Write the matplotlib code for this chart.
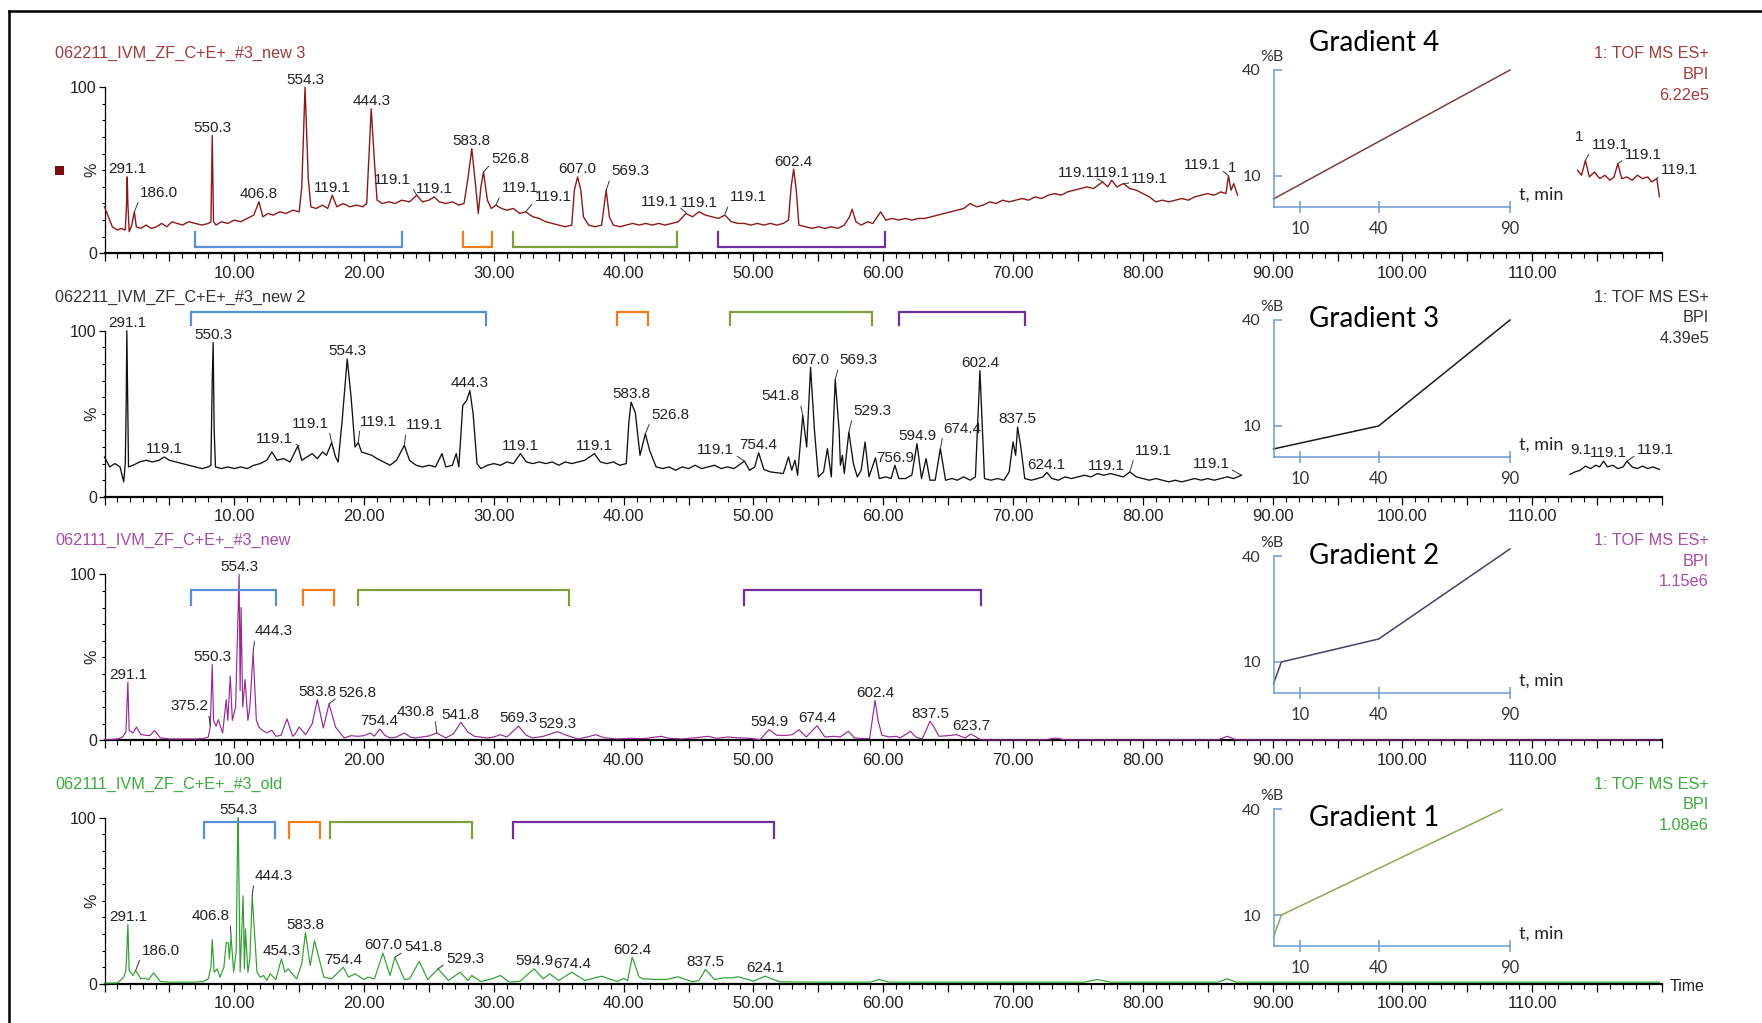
import numpy as np
import matplotlib.pyplot as plt
from matplotlib.lines import Line2D
from matplotlib.patches import Rectangle
from matplotlib.ticker import MultipleLocator, FixedLocator, FuncFormatter

plt.rcParams['font.family'] = 'Liberation Sans'

# ---------------- data ----------------
run_names = ['062211_IVM_ZF_C+E+_#3_new 3', '062211_IVM_ZF_C+E+_#3_new 2',
             '062111_IVM_ZF_C+E+_#3_new', '062111_IVM_ZF_C+E+_#3_old']
bpi_scale = ['6.22e5', '4.39e5', '1.15e6', '1.08e6']
gradient_names = ['Gradient 4', 'Gradient 3', 'Gradient 2', 'Gradient 1']

# run 1 (new 3): visible part before and after the inset
p1_trace = [(0.0, 28), (0.3, 22), (0.6, 16), (1.0, 14), (1.3, 15), (1.6, 14), (1.7, 30), (1.75, 46), (1.8, 30),
            (1.9, 13), (2.1, 17), (2.3, 25), (2.45, 16), (2.8, 15), (3.2, 17), (3.6, 15), (4.0, 16), (4.4, 18),
            (4.8, 16), (5.2, 19), (5.6, 18), (6.0, 17), (6.5, 19), (7.0, 18), (7.5, 17), (8.0, 18), (8.2, 19),
            (8.3, 71), (8.4, 19), (8.6, 17), (9.0, 19), (9.5, 18), (10.0, 20), (10.5, 19), (11.0, 21), (11.5, 23),
            (11.9, 31), (12.2, 22), (12.6, 24), (13.0, 23), (13.5, 25), (14.0, 24), (14.5, 26), (15.0, 25),
            (15.2, 40), (15.45, 100), (15.7, 45), (15.9, 28), (16.3, 27), (16.8, 29), (17.2, 27), (17.55, 35),
            (17.9, 28), (18.4, 30), (18.9, 28), (19.4, 29), (19.9, 28), (20.2, 30), (20.55, 87), (20.8, 55),
            (21.0, 32), (21.4, 30), (21.9, 31), (22.4, 30), (22.9, 32), (23.5, 31), (24.05, 35), (24.5, 31),
            (25.0, 32), (25.4, 34), (25.8, 31), (26.3, 30), (26.8, 31), (27.3, 29), (27.7, 30), (28.0, 45),
            (28.3, 63), (28.6, 40), (28.8, 24), (29.0, 40), (29.2, 49), (29.5, 32), (29.8, 27), (30.15, 29),
            (30.6, 27), (31.0, 26), (31.5, 27), (32.0, 24), (32.45, 25), (33.0, 22), (33.5, 21), (34.0, 19),
            (34.5, 18), (35.0, 17), (35.5, 16), (36.0, 17), (36.2, 38), (36.45, 46), (36.7, 38), (36.9, 22),
            (37.3, 17), (37.8, 16), (38.3, 17), (38.65, 38), (38.9, 22), (39.2, 17), (39.7, 16), (40.2, 17),
            (40.7, 18), (41.2, 17), (41.7, 18), (42.2, 17), (42.7, 18), (43.2, 17), (43.7, 18), (44.2, 19),
            (44.8, 24), (45.3, 22), (45.8, 25), (46.3, 23), (46.8, 22), (47.3, 21), (47.8, 23), (48.3, 19),
            (48.8, 18), (49.3, 18), (49.8, 17), (50.3, 18), (50.8, 17), (51.3, 18), (51.8, 17), (52.3, 18),
            (52.7, 20), (52.9, 40), (53.1, 50.6), (53.3, 38), (53.5, 17), (54.0, 16), (54.5, 15), (55.0, 16),
            (55.5, 15), (56.0, 16), (56.5, 15), (57.0, 17), (57.4, 22), (57.6, 26.5), (57.9, 19), (58.3, 17),
            (58.8, 19), (59.2, 18), (59.8, 25), (60.2, 20), (60.7, 21), (61.2, 20), (61.7, 21), (62.2, 20),
            (62.7, 21), (63.2, 21), (63.7, 22), (64.2, 23), (64.7, 24), (65.2, 25), (65.7, 26), (66.2, 27),
            (66.7, 30), (67.2, 28), (67.7, 29), (68.2, 31), (68.7, 30), (69.2, 32), (69.7, 31), (70.2, 32),
            (70.7, 33), (71.2, 32), (71.7, 34), (72.2, 33), (72.7, 35), (73.2, 36), (73.7, 35), (74.2, 37),
            (74.7, 38), (75.2, 39), (75.7, 40), (76.2, 39), (76.9, 43), (77.3, 40), (77.6, 44), (78.0, 40),
            (78.5, 42), (79.0, 39), (79.5, 38), (80.0, 36), (80.5, 34), (81.0, 31), (81.5, 32), (82.0, 31),
            (82.5, 32), (83.0, 33), (83.5, 32), (84.0, 34), (84.5, 35), (85.0, 36), (85.5, 35), (86.0, 37),
            (86.4, 36), (86.6, 46.6), (86.8, 38), (87.0, 42), (87.3, 35)]
p1_trace_end = [(113.5, 50), (113.8, 47), (114.1, 56), (114.4, 46), (114.8, 49), (115.2, 45), (115.6, 47),
                (116.0, 44), (116.3, 46), (116.6, 54), (116.9, 45), (117.3, 46), (117.7, 44), (118.1, 47),
                (118.5, 45), (118.9, 46), (119.2, 43), (119.6, 45), (119.8, 34)]

# run 2 (new 2)
p2_trace = [(0.0, 24), (0.4, 18), (0.8, 20), (1.2, 18), (1.48, 9), (1.6, 20), (1.68, 61), (1.72, 100), (1.78, 60),
            (1.85, 18), (2.2, 19), (2.7, 21), (3.2, 22), (3.7, 21), (4.2, 22), (4.6, 24), (5.0, 22), (5.5, 21),
            (6.0, 20), (6.5, 19), (7.0, 18), (7.5, 17), (8.0, 18), (8.2, 19), (8.3, 70), (8.37, 93), (8.45, 40),
            (8.55, 18), (9.0, 17), (9.5, 18), (10.0, 17), (10.5, 18), (11.0, 17), (11.5, 19), (12.0, 20),
            (12.5, 22), (12.9, 27), (13.3, 22), (13.8, 23), (14.3, 21), (14.9, 30.7), (15.2, 22), (15.6, 24),
            (16.0, 26), (16.4, 23), (16.8, 27), (17.1, 25), (17.5, 32.7), (17.8, 24), (18.0, 21), (18.3, 45),
            (18.7, 83), (19.0, 60), (19.3, 30), (19.55, 32.7), (19.8, 27), (20.2, 26), (20.6, 25), (21.0, 23),
            (21.5, 21), (22.0, 19), (22.5, 22), (23.1, 31), (23.5, 22), (24.0, 19), (24.5, 18), (25.0, 19),
            (25.5, 18), (26.0, 26), (26.3, 18), (26.8, 19), (27.1, 26), (27.3, 18), (27.6, 55), (27.9, 58),
            (28.15, 64), (28.4, 50), (28.7, 20), (29.0, 17), (29.5, 19), (30.0, 20), (30.5, 19), (31.0, 21),
            (31.5, 20), (32.05, 26), (32.5, 21), (33.0, 20), (33.5, 21), (34.0, 20), (34.5, 21), (35.0, 19),
            (35.5, 21), (36.0, 20), (36.5, 21), (37.0, 22), (37.75, 26), (38.2, 21), (38.7, 20), (39.2, 21),
            (39.7, 19), (40.2, 20), (40.4, 45), (40.57, 57), (40.9, 50.6), (41.26, 25), (41.67, 38), (42.0, 28),
            (42.5, 18), (43.0, 17), (43.5, 18), (44.0, 16), (44.5, 18), (45.0, 17), (45.5, 19), (46.0, 17),
            (46.5, 18), (47.0, 19), (47.5, 17), (48.0, 18), (48.5, 17), (49.3, 21.5), (49.7, 16), (50.1, 18),
            (50.4, 26.5), (50.8, 16.5), (51.3, 15), (51.8, 14.5), (52.3, 14), (52.7, 24), (52.95, 16),
            (53.2, 22), (53.4, 13), (53.8, 49), (54.1, 30), (54.4, 78), (54.7, 40), (55.0, 12), (55.4, 15),
            (55.7, 29), (56.0, 12), (56.3, 70.7), (56.6, 40), (56.7, 19), (56.85, 25), (57.0, 14), (57.35, 39),
            (57.7, 20), (58.0, 12), (58.3, 16), (58.6, 33), (58.9, 12), (59.4, 23.5), (59.7, 11), (60.2, 12),
            (60.6, 11), (60.9, 19), (61.2, 11), (61.7, 11), (62.2, 13), (62.6, 32), (62.95, 11), (63.3, 23),
            (63.6, 10), (64.0, 10), (64.4, 29), (64.8, 10), (65.3, 11), (65.7, 10), (66.2, 12), (66.7, 10),
            (67.1, 12), (67.45, 76), (67.8, 11), (68.3, 10), (68.8, 11), (69.3, 10), (69.7, 15), (70.0, 33),
            (70.2, 25), (70.35, 42), (70.6, 30), (70.9, 11), (71.4, 10), (71.9, 11), (72.3, 12), (72.6, 14.7),
            (73.0, 11), (73.5, 10), (74.0, 12), (74.5, 11), (75.0, 12), (75.5, 13), (76.0, 12), (76.5, 14),
            (77.0, 13), (77.5, 14), (78.0, 13), (78.5, 12), (79.0, 15), (79.5, 12), (80.0, 11), (80.5, 10),
            (81.0, 11), (81.5, 10), (82.0, 9), (82.5, 10), (83.0, 9), (83.5, 10), (84.0, 11), (84.5, 10),
            (85.0, 11), (85.5, 10), (86.0, 11), (86.5, 12), (87.0, 11), (87.6, 13)]
p2_trace_end = [(112.9, 13.5), (113.3, 15), (113.7, 16), (114.1, 18.5), (114.5, 17), (114.9, 19), (115.2, 18),
                (115.5, 21.5), (115.8, 18), (116.2, 19), (116.6, 17), (117.0, 18), (117.3, 21.5), (117.7, 18),
                (118.1, 17), (118.5, 18.5), (118.9, 17), (119.3, 18), (119.8, 16.5)]

# run 3 (062111 new)
p3_trace = [(0.0, 0.5), (0.5, 0.5), (1.0, 0.8), (1.4, 2), (1.65, 5), (1.72, 18.5), (1.8, 35), (1.9, 6), (2.2, 4.4),
            (2.46, 8), (2.8, 3.5), (3.2, 3), (3.5, 2.8), (3.85, 6), (4.3, 1.5), (5.0, 0.8), (6.0, 0.8), (7.0, 0.8),
            (7.6, 1), (8.0, 2), (8.15, 8.5), (8.22, 26.5), (8.3, 45.7), (8.4, 12), (8.6, 8.5), (8.77, 12.5),
            (9.1, 4.4), (9.38, 24.5), (9.5, 12), (9.69, 38.6), (9.85, 12), (10.1, 20), (10.3, 80), (10.37, 100),
            (10.45, 30), (10.52, 80), (10.65, 20), (10.83, 36.6), (11.05, 12), (11.2, 20), (11.45, 53),
            (11.7, 12), (11.9, 8), (12.1, 6.4), (12.5, 4.5), (12.9, 6), (13.2, 2.4), (13.6, 3), (14.06, 12.9),
            (14.5, 2.4), (14.7, 4), (15.0, 8), (15.5, 3.4), (16.0, 10), (16.4, 24.5), (16.86, 7.4), (17.3, 22),
            (17.8, 8), (18.46, 1.4), (19.0, 2.8), (19.5, 2.4), (20.0, 2.8), (20.46, 4.4), (20.8, 2.5),
            (21.2, 6.8), (21.6, 3), (22.0, 1.4), (22.5, 2), (23.1, 4.4), (23.6, 1.8), (24.0, 1.4), (24.6, 2.2),
            (25.0, 2.6), (25.6, 4.4), (26.3, 1.4), (26.9, 4), (27.45, 10.9), (28.0, 5), (28.5, 2.4), (29.5, 1.4),
            (30.0, 2), (30.5, 3.4), (31.0, 2), (31.9, 8.5), (32.5, 3), (33.0, 1.4), (33.8, 2.4), (34.9, 5.2),
            (35.6, 3), (36.5, 0.8), (37.2, 2), (37.85, 3.4), (38.5, 1.5), (39.5, 0.8), (40.5, 1.2), (41.5, 1),
            (42.9, 2.4), (43.5, 1.2), (44.5, 0.8), (45.5, 1.5), (46.5, 2.4), (47.2, 1.2), (48.0, 2), (48.8, 1.5),
            (49.7, 1.2), (50.5, 0.4), (51.2, 6.4), (51.8, 3), (52.6, 3), (53.0, 3.4), (53.5, 6.4), (54.07, 2),
            (54.9, 8.8), (55.5, 2), (56.2, 2.4), (56.7, 2), (57.3, 5.4), (57.8, 1.4), (58.5, 1), (58.95, 1),
            (59.15, 12), (59.37, 24), (59.6, 12), (59.9, 3), (60.5, 2), (61.0, 2.4), (61.3, 1.4), (62.1, 5.4),
            (62.5, 2), (63.0, 0.8), (63.3, 6), (63.6, 11.5), (63.9, 8), (64.3, 2.4), (65.0, 2.8), (65.65, 3.4),
            (66.3, 1.4), (66.75, 3.8), (67.5, 0.4), (68.0, 0.2), (70.0, 0.2), (72.5, 0.3), (73.3, 1.4),
            (74.0, 0.3), (78.0, 0.2), (82.0, 0.3), (85.8, 0.3), (86.5, 2.4), (87.2, 0.3), (90.0, 0.2),
            (95.0, 0.3), (100.0, 0.2), (105.0, 0.3), (110.0, 0.2), (115.0, 0.3), (119.8, 0.2)]

# run 4 (062111 old)
p4_trace = [(0.0, 0.4), (0.5, 0.4), (1.0, 0.5), (1.48, 4), (1.65, 8), (1.72, 19), (1.8, 35.8), (1.9, 8), (2.2, 5),
            (2.4, 8), (2.8, 3), (3.08, 3.4), (3.4, 2.5), (3.78, 6.6), (4.3, 1.4), (5.0, 1), (6.0, 1), (7.0, 1),
            (7.6, 1.4), (8.0, 3), (8.2, 10), (8.3, 26.6), (8.45, 7), (8.68, 9), (8.9, 4), (9.2, 10), (9.38, 25),
            (9.54, 24.6), (9.62, 15), (9.75, 28.6), (9.95, 7), (10.15, 20), (10.25, 86), (10.3, 100),
            (10.45, 7), (10.68, 53), (10.78, 9), (10.86, 33), (11.05, 7), (11.2, 15), (11.38, 53), (11.75, 7),
            (12.0, 4), (12.25, 5), (12.5, 2), (12.77, 6), (13.2, 2.5), (13.63, 15), (13.9, 7), (14.15, 9),
            (14.8, 3), (15.2, 12), (15.48, 30.8), (15.85, 11), (16.18, 26), (16.9, 4), (17.5, 3), (18.4, 10),
            (18.8, 4), (19.3, 6), (20.0, 2.6), (20.3, 4), (20.8, 3), (21.45, 18.5), (22.0, 5), (22.37, 16),
            (23.1, 2.6), (23.5, 3), (24.25, 13.5), (24.9, 2.6), (25.7, 9), (26.5, 2), (27.4, 7), (28.0, 2),
            (28.3, 5), (29.0, 1.4), (29.85, 3), (30.5, 5), (31.2, 1), (32.0, 1.5), (33.1, 9), (33.8, 3),
            (34.3, 6), (35.0, 2), (36.0, 7), (37.0, 2), (38.3, 4.6), (39.5, 1.4), (40.0, 3.2), (40.3, 2),
            (40.66, 16), (41.2, 4), (41.5, 3), (42.5, 2.6), (43.3, 2.6), (44.2, 4.2), (45.3, 1.2), (45.8, 2),
            (46.3, 8.7), (47.0, 2.6), (47.7, 3.6), (48.3, 3.6), (48.8, 4.2), (49.4, 3), (50.0, 1.6),
            (50.9, 4.6), (52.0, 1.2), (55.0, 1.0), (59.0, 1.0), (59.7, 2.6), (60.4, 1.0), (65.0, 1.0),
            (70.0, 1.0), (75.5, 1.0), (76.5, 2.6), (77.5, 1.0), (82.0, 1.0), (85.8, 1.0), (86.5, 3),
            (87.2, 1.0), (95.0, 1.0), (105.0, 1.0), (113.0, 1.0), (119.8, 1.0)]

# peak labels: (time, apex %, m/z text)
p1_labels = [(1.75, 46, '291.1'), (2.3, 25, '186.0'), (8.3, 71, '550.3'), (11.9, 31, '406.8'),
             (15.45, 100, '554.3'), (17.55, 35, '119.1'), (20.55, 87, '444.3'), (24.05, 35, '119.1'),
             (25.4, 34, '119.1'), (28.3, 63, '583.8'), (29.2, 49, '526.8'), (30.15, 29, '119.1'),
             (32.45, 25, '119.1'), (36.45, 46, '607.0'), (38.65, 38, '569.3'), (44.8, 24.5, '119.1'),
             (45.8, 25.5, '119.1'), (47.8, 23.5, '119.1'), (53.1, 50.6, '602.4'), (76.9, 43, '119.1'),
             (77.6, 44, '119.1'), (78.5, 42, '119.1'), (86.6, 46.6, '119.1'), (86.9, 47, '1'),
             (113.65, 65.5, '1'), (114.1, 56, '119.1'), (116.6, 54, '119.1'), (119.6, 45, '119.1')]
p2_labels = [(1.72, 100, '291.1'), (4.6, 24, '119.1'), (8.37, 93, '550.3'), (15.0, 30.7, '119.1'),
             (17.5, 32.7, '119.1'), (18.7, 83, '554.3'), (19.55, 32.7, '119.1'), (23.1, 31, '119.1'),
             (28.15, 64, '444.3'), (32.05, 26, '119.1'), (37.75, 26, '119.1'), (40.57, 57, '583.8'),
             (41.67, 38, '526.8'), (49.3, 21.5, '119.1'), (50.4, 26.5, '754.4'), (53.8, 49, '541.8'),
             (54.4, 78, '607.0'), (56.3, 70.7, '569.3'), (57.35, 39, '529.3'), (60.9, 19, '756.9'),
             (62.6, 32, '594.9'), (64.4, 29, '674.4'), (67.45, 76, '602.4'), (70.35, 42, '837.5'),
             (72.6, 14.7, '624.1'), (77.2, 14, '119.1'), (79.0, 15, '119.1'), (87.6, 13, '119.1'),
             (115.9, 21.5, '119.1'), (117.3, 21.5, '119.1')]
p3_labels = [(1.8, 35, '291.1'), (8.15, 8.5, '375.2'), (8.3, 45.7, '550.3'), (10.37, 100, '554.3'),
             (11.45, 53, '444.3'), (16.4, 24.5, '583.8'), (17.3, 22, '526.8'), (21.2, 6.8, '754.4'),
             (25.6, 4.4, '430.8'), (27.45, 10.9, '541.8'), (31.9, 8.5, '569.3'), (34.9, 5.2, '529.3'),
             (51.2, 6.4, '594.9'), (54.9, 8.8, '674.4'), (59.37, 24, '602.4'), (63.6, 11.5, '837.5'),
             (66.75, 3.8, '623.7')]
p4_labels = [(1.8, 35.8, '291.1'), (2.4, 8, '186.0'), (9.75, 28.6, '406.8'), (10.3, 100, '554.3'),
             (11.38, 53, '444.3'), (13.63, 15, '454.3'), (15.48, 30.8, '583.8'), (18.4, 10, '754.4'),
             (21.45, 18.5, '607.0'), (22.37, 16, '541.8'), (25.7, 9, '529.3'), (33.1, 9, '594.9'),
             (36.0, 7, '674.4'), (40.66, 16, '602.4'), (46.3, 8.7, '837.5'), (50.9, 4.6, '624.1')]

# leader-line offsets in pixels (None = label straight above the peak)
p1_leaders = [None, (6, 12), None, None, None, None, None, (-6, 8), None, None, (8, 6), (6, 10), (9, 8), None,
              (5, 12), (-8, 4), None, (5, 10), None, (-8, 2), None, (8, -2), (-8, 4), None, None, (6, 8),
              (7, 2), (4, 2)]
p2_leaders = [None, None, None, (-6, 0), (-3, 12), None, (2, 14), (2, 13), None, None, None, None, (6, 12),
              (-10, 4), None, (-3, 12), None, (4, 12), (4, 14), None, None, (3, 13), None, None, None, None,
              (5, 14), (-12, 4), None, (10, 4)]
p3_leaders = [None, (-2, 13), None, None, (2, 14), None, (9, 4), None, (-2, 14), None, None, None, None, None,
              None, None, None]
p4_leaders = [None, (6, 13), (-1, 13), None, (2, 13), None, None, None, None, (9, 3), (8, 3), None, None, None,
              None, None]

# retention windows (min) marked by the brackets: blue, orange, green, purple
p1_windows = [(7.0, 22.9), (27.6, 29.85), (31.5, 44.1), (47.25, 60.1)]
p2_windows = [(6.7, 29.4), (39.5, 41.9), (48.2, 59.1), (61.2, 70.9)]
p3_windows = [(6.7, 13.2), (15.3, 17.7), (19.5, 35.8), (49.3, 67.5)]
p4_windows = [(7.7, 13.1), (14.2, 16.6), (17.4, 28.3), (31.5, 51.55)]

# solvent gradients (t, %B)
grad4_t, grad4_b = [0, 90], [3.5, 40]
grad3_t, grad3_b = [0, 40, 90], [3.5, 10, 40]
grad2_t, grad2_b = [0, 3, 40, 90], [3.8, 10, 16.5, 42]
grad1_t, grad1_b = [0, 3, 87], [3.7, 10, 40]

# ---------------- layout ----------------
W, H = 1762, 1023
PX = 0.72  # points per pixel at dpi 100


def fx(px):
    return px / W


def fy(py):
    return 1 - py / H


fig = plt.figure(figsize=(W / 100, H / 100), dpi=100)
fig.patch.set_facecolor('white')

trace_colors = ['#8B1A1A', '#111111', '#962A96', '#2F9F2F']
trace_widths = [1.0, 0.95, 0.85, 0.85]
text_colors = ['#A23B3B', '#333333', '#A64CA6', '#3DAA3D']
grad_colors = ['#7B3F3F', '#1A1A1A', '#4B4064', '#8DAA4F']
bracket_colors = ['#5B8FD4', '#F07D1A', '#7BA03C', '#7030A0']
inset_blue = '#6C9BD2'

traces = [[p1_trace, p1_trace_end], [p2_trace, p2_trace_end], [p3_trace], [p4_trace]]
labels = [p1_labels, p2_labels, p3_labels, p4_labels]
leaders = [p1_leaders, p2_leaders, p3_leaders, p4_leaders]
windows = [p1_windows, p2_windows, p3_windows, p4_windows]
grads = [(grad4_t, grad4_b), (grad3_t, grad3_b), (grad2_t, grad2_b), (grad1_t, grad1_b)]
bracket_levels = [(3.7, 12.8), (111.4, 103.4), (90.3, 81.5), (97.2, 88.1)]

inset_top = [70, 320, 556, 809.3]
inset_bot = [206.7, 456.7, 692.7, 945.7]
grad_title_y = [42.7, 319.3, 556, 818]

x0_px, x1_px = 104.5, 1662.0
for k in range(4):
    y100 = 87.3 + 243.5 * k
    y0 = 253.3 + 243.5 * k
    ax = fig.add_axes([fx(x0_px), fy(y0), (x1_px - x0_px) / W, (y0 - y100) / H])
    ax.set_xlim(0, 120)
    ax.set_ylim(0, 100)
    ax.patch.set_alpha(0)
    for s in ['top', 'right']:
        ax.spines[s].set_visible(False)
    ax.spines['bottom'].set_linewidth(1.6)
    ax.spines['left'].set_linewidth(0.9)

    ax.xaxis.set_major_locator(MultipleLocator(5))
    ax.xaxis.set_minor_locator(MultipleLocator(1))
    ax.xaxis.set_major_formatter(FuncFormatter(
        lambda x, p: f'{x:.2f}' if 0 < x < 119 and round(x) % 10 == 0 else ''))
    ax.set_yticks([0, 100])
    ax.set_yticklabels(['0', '100'])
    ax.yaxis.set_minor_locator(FixedLocator(list(range(10, 100, 10))))
    ax.tick_params(axis='x', which='major', length=6, width=0.9, pad=3, labelsize=12, labelcolor='#222')
    ax.tick_params(axis='x', which='minor', length=3.5, width=0.8)
    ax.tick_params(axis='y', which='major', length=4, width=0.9, pad=1.5, labelsize=11.5, labelcolor='#222')
    ax.tick_params(axis='y', which='minor', length=2.5, width=0.8)

    for seg in traces[k]:
        arr = np.array(seg)
        ax.plot(arr[:, 0], arr[:, 1], color=trace_colors[k], lw=trace_widths[k], clip_on=False, zorder=3)

    for (t, v, s), off in zip(labels[k], leaders[k]):
        if off is None:
            ax.annotate(s, (t, v), xytext=(0, 0.5), textcoords='offset points', ha='center', va='bottom',
                        fontsize=11, color='#222', annotation_clip=False)
        else:
            dx, dy = off
            side = 0 if dx >= 0 else 1
            ax.annotate(s, (t, v), xytext=(dx * PX, dy * PX), textcoords='offset points',
                        ha='left' if dx >= 0 else 'right', va='bottom', fontsize=11, color='#222',
                        annotation_clip=False,
                        arrowprops=dict(arrowstyle='-', lw=0.7, color='#333', shrinkA=0, shrinkB=0,
                                        relpos=(side, 0.2)))
    if k == 1:
        ax.text(112.9, 24.2, '9.1', ha='left', va='bottom', fontsize=11, color='#222')

    line_v, end_v = bracket_levels[k]
    for (a, b), c in zip(windows[k], bracket_colors):
        ax.plot([a, a, b, b], [end_v, line_v, line_v, end_v], color=c, lw=1.6, clip_on=False,
                solid_joinstyle='miter', zorder=4)

    # run name and detector info
    fig.text(fx(55.4), fy(y100 - 33.5), run_names[k], ha='left', va='center', fontsize=11.7,
             color=text_colors[k])
    for i, s in enumerate(['1: TOF MS ES+', 'BPI', bpi_scale[k]]):
        fig.text(fx(1709), fy(y100 - 33.7 + 20.7 * i), s, ha='right', va='center', fontsize=11.7,
                 color=text_colors[k])
    fig.text(fx(91.7), fy((y0 + y100) / 2), '%', rotation=90, ha='center', va='center', fontsize=11.5,
             color='#222')

    # gradient inset
    iax = fig.add_axes([fx(1273.5), fy(inset_bot[k]), (1510 - 1273.5) / W, (inset_bot[k] - inset_top[k]) / H])
    iax.set_xlim(0, 90)
    iax.set_ylim(1.3, 40)
    iax.patch.set_alpha(0)
    for s in ['top', 'right']:
        iax.spines[s].set_visible(False)
    for s in ['left', 'bottom']:
        iax.spines[s].set_color(inset_blue)
        iax.spines[s].set_linewidth(1.1)
    iax.set_xticks([10, 40, 90])
    iax.set_yticks([10, 40])
    iax.tick_params(axis='x', direction='inout', length=8.6, width=1.1, color=inset_blue, pad=6,
                    labelsize=12, labelcolor='#333')
    iax.tick_params(axis='y', direction='in', length=6, width=1.1, color=inset_blue, pad=9,
                    labelsize=11.5, labelcolor='#333')
    for lab in iax.get_xticklabels() + iax.get_yticklabels():
        lab.set_fontfamily('Lato')
    gt, gb = grads[k]
    iax.plot(gt, gb, color=grad_colors[k], lw=1.1, clip_on=False)
    fig.text(fx(1271.7), fy(inset_top[k] - 13.3), '%B', ha='center', va='center', fontsize=11.5,
             family='Lato', color='#333')
    fig.text(fx(1519), fy(inset_bot[k] - 12), 't, min', ha='left', va='center', fontsize=13,
             family='Lato', color='#222')
    fig.text(fx(1374.5), fy(grad_title_y[k]), gradient_names[k], ha='center', va='center', fontsize=20,
             family='Lato', color='black')

fig.text(fx(1669.5), fy(986.7), 'Time', ha='left', va='center', fontsize=11.5, color='#222')

# selected-trace marker and outer frame
fig.add_artist(Rectangle((fx(55), fy(174.5)), 9 / W, 9 / H, transform=fig.transFigure,
                         facecolor='#7B0D0D', edgecolor='none'))
fig.add_artist(Line2D([fx(9), 1], [fy(11), fy(11)], transform=fig.transFigure, color='black', lw=1.8))
fig.add_artist(Line2D([fx(9), fx(9)], [0, fy(11)], transform=fig.transFigure, color='black', lw=1.8))

fig.savefig('out.png', dpi=100)
